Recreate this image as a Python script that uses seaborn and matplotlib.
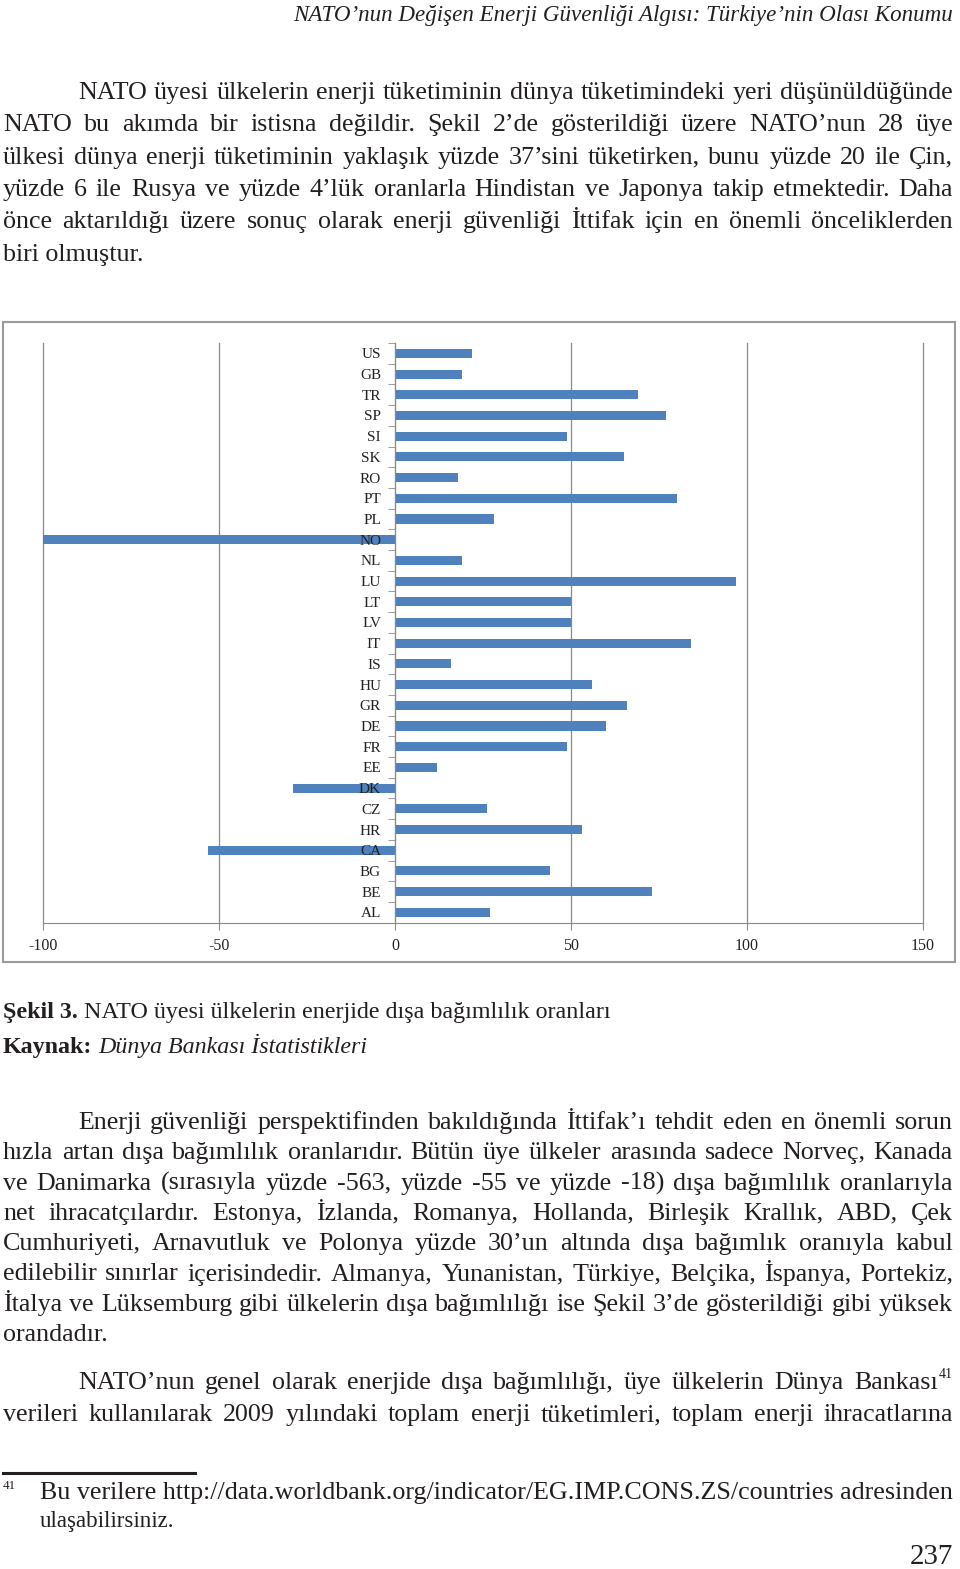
import numpy as np
import seaborn as sns
import matplotlib.pyplot as plt
from matplotlib.patches import Rectangle
from matplotlib.lines import Line2D

# chart data: energy import dependency (%), top to bottom as on the page
countries = ["US", "GB", "TR", "SP", "SI", "SK", "RO", "PT", "PL", "NO",
             "NL", "LU", "LT", "LV", "IT", "IS", "HU", "GR", "DE", "FR",
             "EE", "DK", "CZ", "HR", "CA", "BG", "BE", "AL"]
dependency = [22, 19, 69, 77, 49, 65, 18, 80, 28, -563,
              19, 97, 50, 50, 84, 16, 56, 66, 60, 49,
              12, -29, 26, 53, -53, 44, 73, 27]
x_ticks = [-100, -50, 0, 50, 100, 150]

header = "NATO’nun Değişen Enerji Güvenliği Algısı: Türkiye’nin Olası Konumu"
para1 = [
    "NATO üyesi ülkelerin enerji tüketiminin dünya tüketimindeki yeri düşünüldüğünde",
    "NATO bu akımda bir istisna değildir. Şekil 2’de gösterildiği üzere NATO’nun 28 üye",
    "ülkesi dünya enerji tüketiminin yaklaşık yüzde 37’sini tüketirken, bunu yüzde 20 ile Çin,",
    "yüzde 6 ile Rusya ve yüzde 4’lük oranlarla Hindistan ve Japonya takip etmektedir. Daha",
    "önce aktarıldığı üzere sonuç olarak enerji güvenliği İttifak için en önemli önceliklerden",
    "biri olmuştur.",
]
para2 = [
    "Enerji güvenliği perspektifinden bakıldığında İttifak’ı tehdit eden en önemli sorun",
    "hızla artan dışa bağımlılık oranlarıdır. Bütün üye ülkeler arasında sadece Norveç, Kanada",
    "ve Danimarka (sırasıyla yüzde -563, yüzde -55 ve yüzde -18) dışa bağımlılık oranlarıyla",
    "net ihracatçılardır. Estonya, İzlanda, Romanya, Hollanda, Birleşik Krallık, ABD, Çek",
    "Cumhuriyeti, Arnavutluk ve Polonya yüzde 30’un altında dışa bağımlık oranıyla kabul",
    "edilebilir sınırlar içerisindedir. Almanya, Yunanistan, Türkiye, Belçika, İspanya, Portekiz,",
    "İtalya ve Lüksemburg gibi ülkelerin dışa bağımlılığı ise Şekil 3’de gösterildiği gibi yüksek",
    "orandadır.",
]
para3 = [
    "NATO’nun genel olarak enerjide dışa bağımlılığı, üye ülkelerin Dünya Bankası",
    "verileri kullanılarak 2009 yılındaki toplam enerji tüketimleri, toplam enerji ihracatlarına",
]
footnote = [
    "Bu verilere http://data.worldbank.org/indicator/EG.IMP.CONS.ZS/countries adresinden",
    "ulaşabilirsiniz.",
]

W, H = 960, 1569
INK = "#231f20"
SERIF = "Liberation Serif"

fig = plt.figure(figsize=(W / 100, H / 100), dpi=100)
renderer = fig.canvas.get_renderer()


def measure(s, px, **kw):
    t = fig.text(0, 0, s, fontsize=px * 0.72, family=SERIF, **kw)
    w = t.get_window_extent(renderer).width
    t.remove()
    return w


def put(s, x, y, px, **kw):
    fig.text(x / W, 1 - y / H, s, fontsize=px * 0.72, family=SERIF,
             color=INK, va="baseline", **kw)


def line(s, x0, x1, y, px, justify=True, **kw):
    if not justify:
        put(s, x0, y, px, **kw)
        return
    words = s.split(" ")
    ws = [measure(w, px, **kw) for w in words]
    gap = (x1 - x0 - sum(ws)) / (len(words) - 1)
    if gap < 0.18 * px:
        k = (x1 - x0) / (sum(ws) + (len(words) - 1) * 0.18 * px)
        px *= k
        ws = [measure(w, px, **kw) for w in words]
        gap = (x1 - x0 - sum(ws)) / (len(words) - 1)
    x = x0
    for w, wd in zip(words, ws):
        put(w, x, y, px, **kw)
        x += wd + gap


def paragraph(lines, y0, step, px, right=953):
    for i, s in enumerate(lines):
        x0 = 78 if i == 0 else 3
        last = i == len(lines) - 1 and len(s) < 40
        line(s, x0, right, y0 + i * step, px, justify=not last)


# header
put(header, 953, 21, 23, style="italic", ha="right")

paragraph(para1, 99, 32.3, 26)

# chart
ax = fig.add_axes([43 / W, 1 - 922.7 / H, (923 - 43) / W, (922.7 - 343) / H])
sns.barplot(x=dependency, y=countries, orient="h", color="#4F81BD",
            saturation=1, width=0.44, ax=ax)
ax.set_xlim(x_ticks[0], x_ticks[-1])
ax.set_ylim(len(countries) - 0.5, -0.5)
ax.set_xticks(x_ticks)
ax.set_xticklabels([str(v) for v in x_ticks])
ax.set_xlabel("")
ax.set_ylabel("")
ax.xaxis.grid(True, color="#8a8a8a", lw=0.9)
for gl in ax.get_xgridlines():
    gl.set_clip_on(False)
ax.set_axisbelow(True)
ax.yaxis.set_zorder(5)   # country codes sit on top of the negative bars
for side in ["top", "right"]:
    ax.spines[side].set_visible(False)
ax.spines["left"].set_position(("data", 0))
ax.spines["left"].set_color("#8a8a8a")
ax.spines["bottom"].set_color("#8a8a8a")
ax.set_yticks(np.arange(len(countries) + 1) - 0.5, minor=True)
ax.tick_params(axis="y", which="major", length=0, pad=10,
               labelsize=11, labelcolor="#222222")
ax.tick_params(axis="y", which="minor", length=5, color="#8a8a8a")
ax.tick_params(axis="x", length=5, color="#8a8a8a", pad=6,
               labelsize=11.5, labelcolor="#222222")
for lab in ax.get_xticklabels() + ax.get_yticklabels():
    lab.set_family(SERIF)

fig.add_artist(Rectangle((3 / W, 1 - 962 / H), 952 / W, 640 / H,
                         transform=fig.transFigure, fill=False,
                         ec="#9a9a9a", lw=1.5))

# caption
x = 3
put("Şekil 3.", x, 1018, 24, weight="bold")
x += measure("Şekil 3. ", 24, weight="bold")
put("NATO üyesi ülkelerin enerjide dışa bağımlılık oranları", x, 1018, 24)
x = 3
put("Kaynak:", x, 1053, 24, weight="bold")
x += measure("Kaynak: ", 24, weight="bold")
put("Dünya Bankası İstatistikleri", x, 1053, 24, style="italic")

paragraph(para2, 1129, 30.3, 26)

# paragraph 3 with footnote mark
sup_w = measure("41", 14)
line(para3[0], 78, 953 - sup_w - 1, 1389, 26)
put("41", 953 - sup_w, 1378, 14)
line(para3[1], 3, 953, 1421, 26)

# footnote
fig.add_artist(Line2D([3 / W, 195 / W], [1 - 1473 / H] * 2,
                      transform=fig.transFigure, color=INK, lw=2.2))
put("41", 3, 1489, 13)
fn_px = 23 * (953 - 40) / measure(footnote[0], 23)
put(footnote[0], 40, 1499, fn_px)
put(footnote[1], 40, 1527, 23)

put("237", 953, 1564, 29, ha="right")

fig.savefig("out.png", dpi=100, facecolor="white")
